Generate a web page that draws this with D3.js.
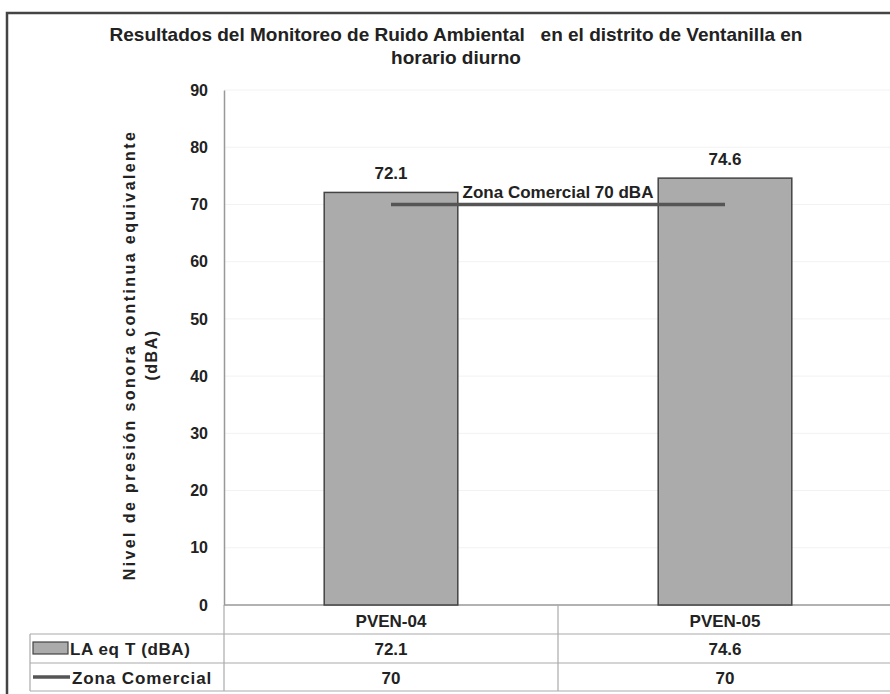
<!DOCTYPE html>
<html>
<head>
<meta charset="utf-8">
<script src="https://cdn.jsdelivr.net/npm/d3@7"></script>
<style>
  body { margin: 0; background: #fff; }
  svg { display: block; font-family: "Liberation Sans", Arial, sans-serif; }
</style>
</head>
<body>
<div class="chart"></div>
<script>
var categories = ["PVEN-04", "PVEN-05"];
var laeqValues = [72.1, 74.6];
var zonaComercial = [70, 70];
var yTicks = [0, 10, 20, 30, 40, 50, 60, 70, 80, 90];
var seriesNames = ["LA eq T (dBA)", "Zona Comercial"];

var svgWidth = 890;
var svgHeight = 694;

var svg = d3.select(".chart")
  .append("svg")
  .attr("width", svgWidth)
  .attr("height", svgHeight);

// outer frame (right/bottom cut off like the source)
svg.append("path")
  .attr("d", "M7,694 V13 H890")
  .attr("fill", "none")
  .attr("stroke", "#444")
  .attr("stroke-width", 2.5);

// title
var title = svg.append("text")
  .attr("text-anchor", "middle")
  .attr("font-weight", "bold")
  .attr("font-size", 19)
  .attr("fill", "#222");
title.append("tspan").attr("x", 456).attr("y", 41)
  .attr("xml:space", "preserve")
  .style("white-space", "pre")
  .text("Resultados del Monitoreo de Ruido Ambiental   en el distrito de Ventanilla en");
title.append("tspan").attr("x", 456).attr("y", 64).text("horario diurno");

// scales
var plotLeft = 224, plotRight = 892, plotTop = 90, plotBottom = 605;

var xScale = d3.scaleBand()
  .domain(categories)
  .range([plotLeft, plotRight])
  .paddingInner(0.6)
  .paddingOuter(0.3);

var yScale = d3.scaleLinear()
  .domain([0, 90])
  .range([plotBottom, plotTop]);

// faint gridlines
svg.append("g")
  .selectAll("line")
  .data(yTicks.slice(1))
  .enter()
  .append("line")
  .attr("x1", plotLeft)
  .attr("x2", plotRight)
  .attr("y1", d => yScale(d))
  .attr("y2", d => yScale(d))
  .attr("stroke", "#f2f2f2")
  .attr("stroke-width", 1);

// y axis
var leftAxis = d3.axisLeft(yScale).tickValues(yTicks).tickSize(0).tickPadding(16);
var yAxisG = svg.append("g")
  .attr("transform", `translate(${plotLeft},0)`)
  .call(leftAxis);
yAxisG.select(".domain").attr("stroke", "#999").attr("stroke-width", 1.5);
yAxisG.selectAll("text")
  .attr("font-family", "'Liberation Sans', Arial, sans-serif")
  .attr("font-weight", "bold")
  .attr("font-size", 16)
  .attr("fill", "#222");

// baseline
svg.append("line")
  .attr("x1", plotLeft).attr("x2", plotRight)
  .attr("y1", yScale(0)).attr("y2", yScale(0))
  .attr("stroke", "#999").attr("stroke-width", 1.5);

// y axis title
var yTitle = svg.append("text")
  .attr("transform", "translate(0,355) rotate(-90)")
  .attr("text-anchor", "middle")
  .attr("font-weight", "bold")
  .attr("font-size", 16)
  .attr("fill", "#222")
  .attr("letter-spacing", 2.4);
yTitle.append("tspan").attr("x", 0).attr("y", 135).text("Nivel de presión sonora continua equivalente");
yTitle.append("tspan").attr("x", 0).attr("y", 157).attr("letter-spacing", 1.5).text("(dBA)");

// bars
svg.append("g")
  .selectAll("rect")
  .data(categories)
  .enter()
  .append("rect")
  .attr("x", d => xScale(d))
  .attr("y", (d, i) => yScale(laeqValues[i]))
  .attr("width", xScale.bandwidth())
  .attr("height", (d, i) => yScale(0) - yScale(laeqValues[i]))
  .attr("fill", "#ababab")
  .attr("stroke", "#444")
  .attr("stroke-width", 1.5);

// value labels
svg.append("g")
  .selectAll("text")
  .data(categories)
  .enter()
  .append("text")
  .attr("x", d => xScale(d) + xScale.bandwidth() / 2)
  .attr("y", (d, i) => yScale(laeqValues[i]) - 13)
  .attr("text-anchor", "middle")
  .attr("font-weight", "bold")
  .attr("font-size", 17)
  .attr("fill", "#222")
  .text((d, i) => laeqValues[i]);

// zona comercial line
var line = d3.line()
  .x((d, i) => xScale(categories[i]) + xScale.bandwidth() / 2)
  .y(d => yScale(d));
svg.append("path")
  .datum(zonaComercial)
  .attr("d", line)
  .attr("fill", "none")
  .attr("stroke", "#555")
  .attr("stroke-width", 3.5);

var midX = (xScale(categories[0]) + xScale(categories[1]) + xScale.bandwidth()) / 2;
svg.append("text")
  .attr("x", midX)
  .attr("y", yScale(70) - 6)
  .attr("text-anchor", "middle")
  .attr("font-weight", "bold")
  .attr("font-size", 17)
  .attr("fill", "#222")
  .text("Zona Comercial 70 dBA");

// data table
var rowTop = plotBottom, rowH1 = 634, rowH2 = 663, rowH3 = 691;
var tableLeft = 30;
var step = xScale.step();
var cellEdges = [plotLeft].concat(categories.map(d => xScale(d) + xScale.bandwidth() / 2 + step / 2));

var grid = svg.append("g").attr("stroke", "#aaa").attr("stroke-width", 1.2);
[rowH1, rowH2, rowH3].forEach(function (yy) {
  grid.append("line").attr("x1", tableLeft).attr("x2", 890).attr("y1", yy).attr("y2", yy);
});
grid.append("line").attr("x1", tableLeft).attr("x2", tableLeft).attr("y1", rowH1).attr("y2", rowH3);
cellEdges.forEach(function (xx) {
  grid.append("line").attr("x1", xx).attr("x2", xx).attr("y1", rowTop).attr("y2", rowH3);
});

var tableText = svg.append("g")
  .attr("font-weight", "bold")
  .attr("font-size", 17)
  .attr("fill", "#222");

var centers = categories.map(d => xScale(d) + xScale.bandwidth() / 2);

tableText.selectAll(".cat")
  .data(categories)
  .enter()
  .append("text")
  .attr("class", "cat")
  .attr("x", (d, i) => centers[i])
  .attr("y", 627)
  .attr("text-anchor", "middle")
  .text(d => d);

tableText.selectAll(".v1")
  .data(laeqValues)
  .enter()
  .append("text")
  .attr("class", "v1")
  .attr("x", (d, i) => centers[i])
  .attr("y", 655)
  .attr("text-anchor", "middle")
  .text(d => d);

tableText.selectAll(".v2")
  .data(zonaComercial)
  .enter()
  .append("text")
  .attr("class", "v2")
  .attr("x", (d, i) => centers[i])
  .attr("y", 684)
  .attr("text-anchor", "middle")
  .text(d => d);

// legend keys in table
svg.append("rect")
  .attr("x", 33).attr("y", 642)
  .attr("width", 35).attr("height", 12)
  .attr("fill", "#ababab").attr("stroke", "#444").attr("stroke-width", 1.2);
svg.append("line")
  .attr("x1", 33).attr("x2", 70)
  .attr("y1", 677).attr("y2", 677)
  .attr("stroke", "#555").attr("stroke-width", 3.5);

tableText.append("text").attr("x", 70).attr("y", 655).attr("letter-spacing", 0.6).text(seriesNames[0]);
tableText.append("text").attr("x", 72).attr("y", 684).attr("letter-spacing", 0.9).text(seriesNames[1]);
</script>
</body>
</html>
